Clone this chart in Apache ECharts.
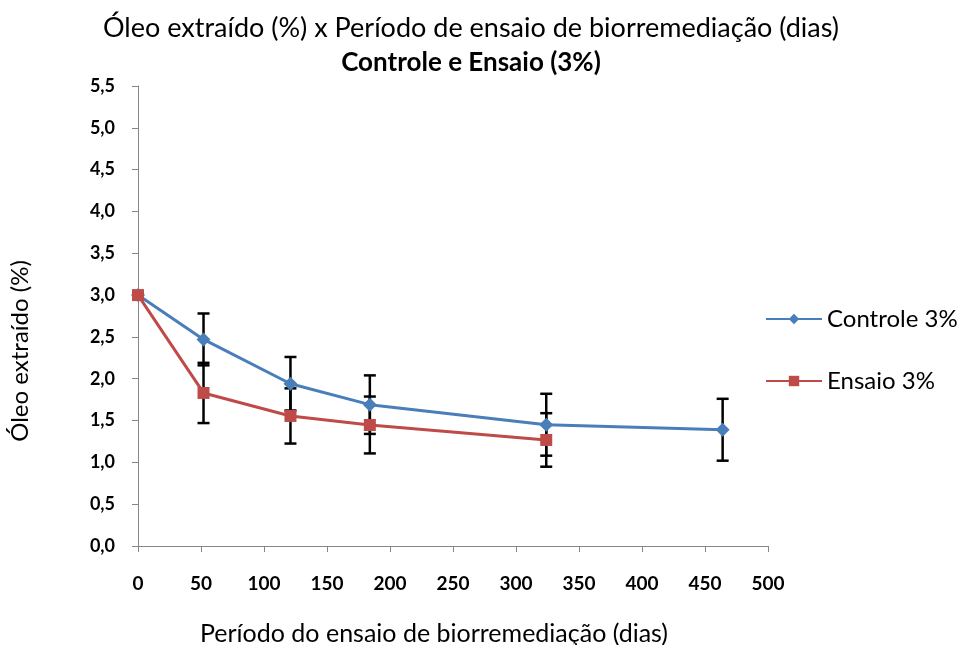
<!DOCTYPE html>
<html>
<head>
<meta charset="utf-8">
<script src="https://cdn.jsdelivr.net/npm/echarts@6/dist/echarts.min.js"></script>
<style>
  html, body { margin: 0; padding: 0; background: #fff; }
  #chart { width: 958px; height: 645px; }
</style>
</head>
<body>
<div id="chart"></div>
<script>
// dias, valores e desvios
const diasControle = [0, 52, 121, 184, 324, 464];
const oleoControle = [3.0, 2.47, 1.94, 1.69, 1.45, 1.39];
const erroControle = [0, 0.31, 0.32, 0.35, 0.37, 0.37];

const diasEnsaio = [0, 52, 121, 184, 324];
const oleoEnsaio = [3.0, 1.83, 1.555, 1.447, 1.268];
const erroEnsaio = [0, 0.36, 0.33, 0.34, 0.32];

const FONT = 'Lato';

const chart = echarts.init(document.getElementById('chart'));

// barras de erro desenhadas com custom series
function errorBars(dias, vals, errs) {
  const data = dias.map((d, i) => [d, vals[i] - errs[i], vals[i] + errs[i]]).filter((r, i) => errs[i] > 0);
  return {
    type: 'custom',
    silent: true,
    z: 1,
    data: data,
    renderItem: (params, api) => {
      const x = api.value(0);
      const lo = api.coord([x, api.value(1)]);
      const hi = api.coord([x, api.value(2)]);
      const w = 6;
      const style = { stroke: '#000', lineWidth: 2.5 };
      return {
        type: 'group',
        children: [
          { type: 'line', shape: { x1: hi[0], y1: hi[1], x2: lo[0], y2: lo[1] }, style },
          { type: 'line', shape: { x1: hi[0] - w, y1: hi[1], x2: hi[0] + w, y2: hi[1] }, style },
          { type: 'line', shape: { x1: lo[0] - w, y1: lo[1], x2: lo[0] + w, y2: lo[1] }, style }
        ]
      };
    }
  };
}

const option = {
  animation: false,
  backgroundColor: '#fff',
  textStyle: { fontFamily: FONT },
  title: {
    text: 'Óleo extraído (%) x Período de ensaio de biorremediação (dias)',
    subtext: 'Controle e Ensaio (3%)',
    left: 466,
    textAlign: 'center',
    top: 10,
    itemGap: 8,
    textStyle: { fontFamily: FONT, fontSize: 27, fontWeight: 'normal', color: '#000' },
    subtextStyle: { fontFamily: FONT, fontSize: 26, fontWeight: 'bold', color: '#000' }
  },
  legend: {
    orient: 'vertical',
    left: 760,
    top: 302,
    itemGap: 38,
    itemWidth: 56,
    itemHeight: 13,
    textStyle: { fontFamily: FONT, fontSize: 24, color: '#000' },
    data: ['Controle 3%', 'Ensaio 3%']
  },
  grid: { left: 138, top: 86, width: 630, height: 460, containLabel: false, outerBoundsMode: 'none' },
  xAxis: {
    type: 'value',
    min: 0,
    max: 500,
    interval: 50,
    name: 'Período do ensaio de biorremediação (dias)',
    nameLocation: 'middle',
    nameGap: 75,
    nameTextStyle: { fontFamily: FONT, fontSize: 25, color: '#000', padding: [0, 38, 0, 0] },
    axisLine: { lineStyle: { color: '#868686', width: 1 } },
    axisTick: { inside: false, length: 6, lineStyle: { color: '#868686' } },
    axisLabel: { fontFamily: FONT, fontSize: 19, fontWeight: 'bold', color: '#000', margin: 28 },
    splitLine: { show: false }
  },
  yAxis: {
    type: 'value',
    min: 0,
    max: 5.5,
    interval: 0.5,
    name: 'Óleo extraído (%)',
    nameLocation: 'middle',
    nameGap: 106,
    nameTextStyle: { fontFamily: FONT, fontSize: 24, color: '#000', padding: [0, 70, 0, 0] },
    axisLine: { show: true, lineStyle: { color: '#868686', width: 1 } },
    axisTick: { show: true, inside: false, length: 6, lineStyle: { color: '#868686' } },
    axisLabel: {
      fontFamily: FONT, fontSize: 18, fontWeight: 'bold', color: '#000', margin: 23,
      formatter: v => v.toFixed(1).replace('.', ',')
    },
    splitLine: { show: false }
  },
  series: [
    errorBars(diasControle, oleoControle, erroControle),
    errorBars(diasEnsaio, oleoEnsaio, erroEnsaio),
    {
      name: 'Controle 3%',
      type: 'line',
      z: 3,
      data: diasControle.map((d, i) => [d, oleoControle[i]]),
      symbol: 'diamond',
      symbolSize: 14,
      lineStyle: { color: '#4a7ebb', width: 3 },
      itemStyle: { color: '#4a7ebb' }
    },
    {
      name: 'Ensaio 3%',
      type: 'line',
      z: 4,
      data: diasEnsaio.map((d, i) => [d, oleoEnsaio[i]]),
      symbol: 'rect',
      symbolSize: 12,
      lineStyle: { color: '#be4b48', width: 3 },
      itemStyle: { color: '#be4b48' }
    }
  ]
};

chart.setOption(option);
</script>
</body>
</html>
